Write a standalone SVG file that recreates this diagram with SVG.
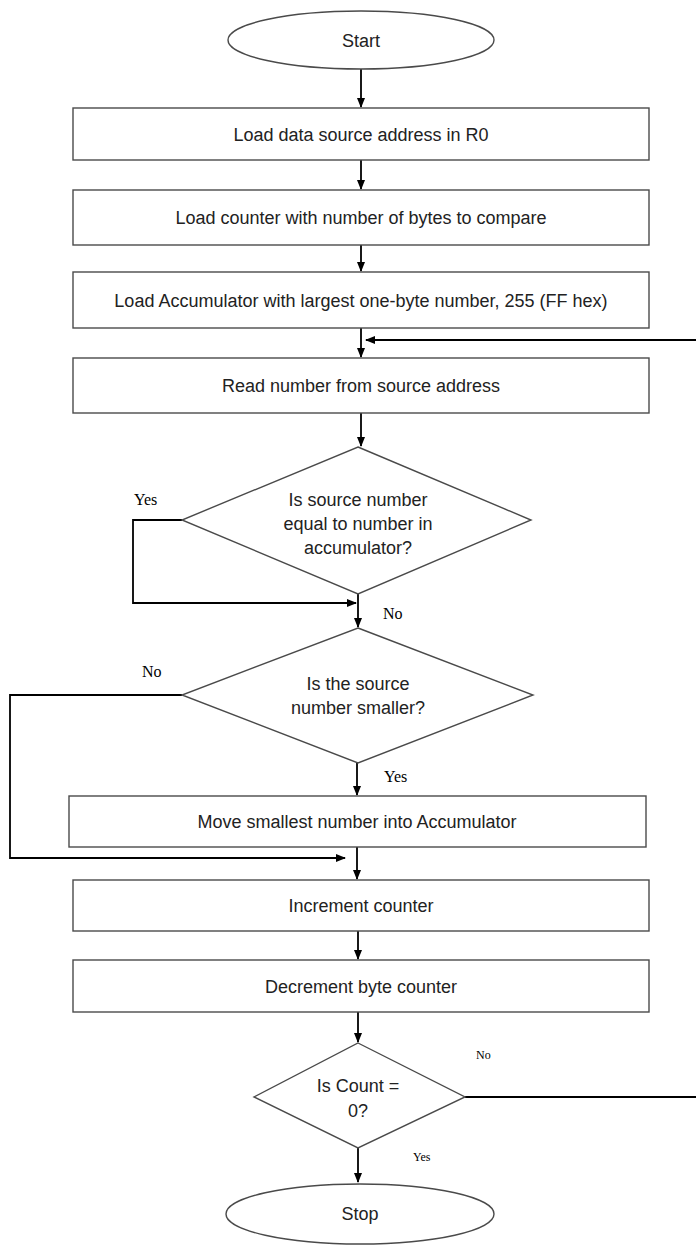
<svg xmlns="http://www.w3.org/2000/svg" width="696" height="1246" viewBox="0 0 696 1246">
<style>
.shape{fill:#fff;stroke:#4a4a4a;stroke-width:1.4}
.t{font-family:"Liberation Sans",Arial,sans-serif;font-size:18px;fill:#222;text-anchor:middle}
.lbl{font-family:"Liberation Serif","Times New Roman",serif;font-size:16px;fill:#000}
.lbls{font-family:"Liberation Serif","Times New Roman",serif;font-size:12px;fill:#000}
.c{fill:none;stroke:#000;stroke-width:1.8}
</style>
<defs>
<marker id="ah" markerWidth="10" markerHeight="10" refX="9" refY="5" orient="auto" markerUnits="userSpaceOnUse">
<path d="M0,1 L10,5 L0,9 Z" fill="#000"/>
</marker>
</defs>
<rect width="696" height="1246" fill="#fff"/>
<g id="connectors">
<line class="c" x1="361" y1="68" x2="361" y2="107" marker-end="url(#ah)"/>
<line class="c" x1="361" y1="160" x2="361" y2="189" marker-end="url(#ah)"/>
<line class="c" x1="361" y1="245" x2="361" y2="271" marker-end="url(#ah)"/>
<line class="c" x1="361" y1="328" x2="361" y2="357" marker-end="url(#ah)"/>
<line class="c" x1="696" y1="340" x2="366" y2="340" marker-end="url(#ah)"/>
<line class="c" x1="361" y1="413" x2="361" y2="446" marker-end="url(#ah)"/>
<polyline class="c" points="182,520 133,520 133,603 356,603" marker-end="url(#ah)"/>
<line class="c" x1="358" y1="594" x2="358" y2="627" marker-end="url(#ah)"/>
<polyline class="c" points="182,695 10,695 10,858 345,858" marker-end="url(#ah)"/>
<line class="c" x1="357" y1="763" x2="357" y2="795" marker-end="url(#ah)"/>
<line class="c" x1="357" y1="847" x2="357" y2="879" marker-end="url(#ah)"/>
<line class="c" x1="358" y1="931" x2="358" y2="959" marker-end="url(#ah)"/>
<line class="c" x1="358" y1="1012" x2="358" y2="1042" marker-end="url(#ah)"/>
<line class="c" x1="465" y1="1097" x2="696" y2="1097"/>
<line class="c" x1="358" y1="1148" x2="358" y2="1182" marker-end="url(#ah)"/>
<text class="lbl" x="134" y="505">Yes</text>
<text class="lbl" x="383" y="619">No</text>
<text class="lbl" x="142" y="677">No</text>
<text class="lbl" x="384" y="782">Yes</text>
<text class="lbls" x="476" y="1059">No</text>
<text class="lbls" x="413" y="1161">Yes</text>
</g>
<g id="start">
<ellipse class="shape" cx="361" cy="40" rx="133" ry="29"/>
<text class="t" x="361" y="46.5">Start</text>
</g>
<g id="load-source">
<rect class="shape" x="73" y="108" width="576" height="52"/>
<text class="t" x="361" y="141">Load data source address in R0</text>
</g>
<g id="load-counter">
<rect class="shape" x="73" y="190" width="576" height="55"/>
<text class="t" x="361" y="224">Load counter with number of bytes to compare</text>
</g>
<g id="load-acc">
<rect class="shape" x="73" y="272" width="576" height="56"/>
<text class="t" x="361" y="306.5">Load Accumulator with largest one-byte number, 255 (FF hex)</text>
</g>
<g id="read-number">
<rect class="shape" x="73" y="358" width="576" height="55"/>
<text class="t" x="361" y="392">Read number from source address</text>
</g>
<g id="is-equal">
<polygon class="shape" points="358,447 531,520 358,594 182,520"/>
<text class="t" x="358" y="506">Is source number</text>
<text class="t" x="358" y="530">equal to number in</text>
<text class="t" x="358" y="554">accumulator?</text>
</g>
<g id="is-smaller">
<polygon class="shape" points="358,628 533,695 358,763 182,695"/>
<text class="t" x="358" y="690">Is the source</text>
<text class="t" x="358" y="714">number smaller?</text>
</g>
<g id="move-smallest">
<rect class="shape" x="69" y="796" width="577" height="51"/>
<text class="t" x="357" y="828">Move smallest number into Accumulator</text>
</g>
<g id="increment">
<rect class="shape" x="73" y="880" width="576" height="51"/>
<text class="t" x="361" y="912">Increment counter</text>
</g>
<g id="decrement">
<rect class="shape" x="73" y="960" width="576" height="52"/>
<text class="t" x="361" y="993">Decrement byte counter</text>
</g>
<g id="is-count-zero">
<polygon class="shape" points="358,1043 465,1097 358,1148 254,1097"/>
<text class="t" x="358" y="1092">Is Count =</text>
<text class="t" x="358" y="1117">0?</text>
</g>
<g id="stop">
<ellipse class="shape" cx="360" cy="1214" rx="134" ry="30"/>
<text class="t" x="360" y="1219.5">Stop</text>
</g>
</svg>
